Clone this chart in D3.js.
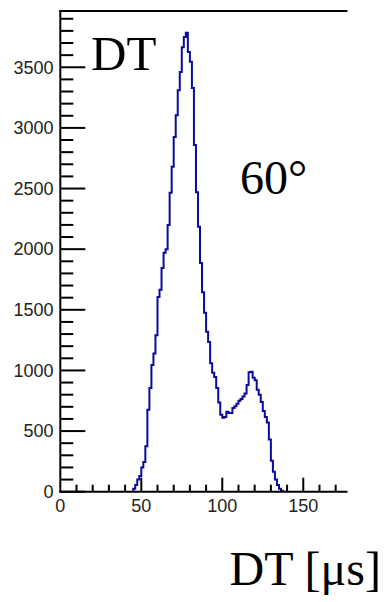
<!DOCTYPE html>
<html>
<head>
<meta charset="utf-8">
<script src="https://cdn.jsdelivr.net/npm/d3@7"></script>
<style>
  html, body { margin: 0; padding: 0; background: #fff; }
  svg { display: block; }
</style>
</head>
<body>
<svg id="chart" width="386" height="602"></svg>
<script>
// Drift-time histogram, 60 degree data set
const binStart = 45;      // lower edge of first filled bin [us]
const binWidth = 1.25;    // bin width [us]
const counts = [
  25, 55, 100, 130, 200, 245, 375, 675, 855, 1045,
  1140, 1290, 1605, 1665, 1845, 1970, 2000, 2200, 2465, 2680,
  2925, 3105, 3310, 3460, 3665, 3750, 3785, 3625, 3545, 3330,
  2860, 2470, 2185, 1885, 1645, 1475, 1320, 1235, 1060, 980,
  945, 855, 735, 635, 610, 615, 660, 650, 650, 690,
  705, 725, 750, 765, 785, 810, 880, 985, 990, 940,
  920, 840, 800, 740, 665, 615, 570, 430, 255, 165,
  100, 55, 25, 8
];

const xMajorTicks = [0, 50, 100, 150];
const xTickLabels = ["0", "50", "100", "150"];
const yMajorTicks = [0, 500, 1000, 1500, 2000, 2500, 3000, 3500];
const yTickLabels = ["0", "500", "1000", "1500", "2000", "2500", "3000", "3500"];
const xMinorStep = 10;
const yMinorStep = 100;
const xMax = 177.3;
const yMax = 3964;

const titleText = "DT";
const angleText = "60°";
const xTitle = "DT [μs]";

const svg = d3.select("#chart");
const frame = { left: 60.3, right: 347.5, top: 11, bottom: 491.7 };

const x = d3.scaleLinear().domain([0, xMax]).range([frame.left, frame.right]);
const y = d3.scaleLinear().domain([0, yMax]).range([frame.bottom, frame.top]);

// histogram outline
const pts = [[binStart, 0]];
counts.forEach((c, i) => {
  const lo = binStart + i * binWidth;
  pts.push([lo, c], [lo + binWidth, c]);
});
pts.push([binStart + counts.length * binWidth, 0]);

const line = d3.line().x(d => x(d[0])).y(d => y(d[1]));
svg.append("path")
  .attr("d", line(pts))
  .attr("fill", "none")
  .attr("stroke", "#0a0a9c")
  .attr("stroke-width", 2)
  .attr("stroke-linejoin", "miter");

const axisG = svg.append("g").attr("stroke", "#000").attr("stroke-width", 2);

// frame lines: left, bottom, top
axisG.append("line").attr("x1", frame.left).attr("x2", frame.left).attr("y1", frame.top - 1).attr("y2", frame.bottom + 1);
axisG.append("line").attr("x1", frame.left - 1).attr("x2", frame.right).attr("y1", frame.bottom).attr("y2", frame.bottom);
axisG.append("line").attr("x1", frame.left - 1).attr("x2", frame.right).attr("y1", frame.top).attr("y2", frame.top);

// y ticks
const yMinor = d3.range(0, yMax, yMinorStep);
axisG.selectAll(".ymin").data(yMinor).enter().append("line")
  .attr("x1", frame.left).attr("x2", d => yMajorTicks.includes(d) ? frame.left + 25 : frame.left + 13)
  .attr("y1", d => y(d)).attr("y2", d => y(d));

// x ticks
const xMinor = d3.range(xMinorStep, xMax, xMinorStep);
axisG.selectAll(".xmin").data(xMinor).enter().append("line")
  .attr("x1", d => x(d)).attr("x2", d => x(d))
  .attr("y1", frame.bottom).attr("y2", d => xMajorTicks.includes(d) ? frame.bottom - 14 : frame.bottom - 7);

// tick labels
const labelFont = "'Liberation Sans', Arial, Helvetica, sans-serif";
svg.selectAll(".ylab").data(yMajorTicks).enter().append("text")
  .attr("x", 53.5).attr("y", d => y(d) + 6.3)
  .attr("text-anchor", "end")
  .attr("font-family", labelFont).attr("font-size", 18)
  .attr("fill", "#222")
  .text((d, i) => yTickLabels[i]);

svg.selectAll(".xlab").data(xMajorTicks).enter().append("text")
  .attr("x", d => x(d)).attr("y", 512)
  .attr("text-anchor", "middle")
  .attr("font-family", labelFont).attr("font-size", 18)
  .attr("fill", "#222")
  .text((d, i) => xTickLabels[i]);

// serif annotations
const serif = "'Liberation Serif', 'Times New Roman', Times, serif";
svg.append("text").attr("x", 91).attr("y", 70)
  .attr("font-family", serif).attr("font-size", 49).attr("fill", "#000")
  .text(titleText);
svg.append("text").attr("x", 240).attr("y", 193.5)
  .attr("font-family", serif).attr("font-size", 48).attr("fill", "#000")
  .text(angleText);
svg.append("text").attr("x", 381).attr("y", 585)
  .attr("text-anchor", "end")
  .attr("font-family", serif).attr("font-size", 48).attr("fill", "#000")
  .text(xTitle);
</script>
</body>
</html>
